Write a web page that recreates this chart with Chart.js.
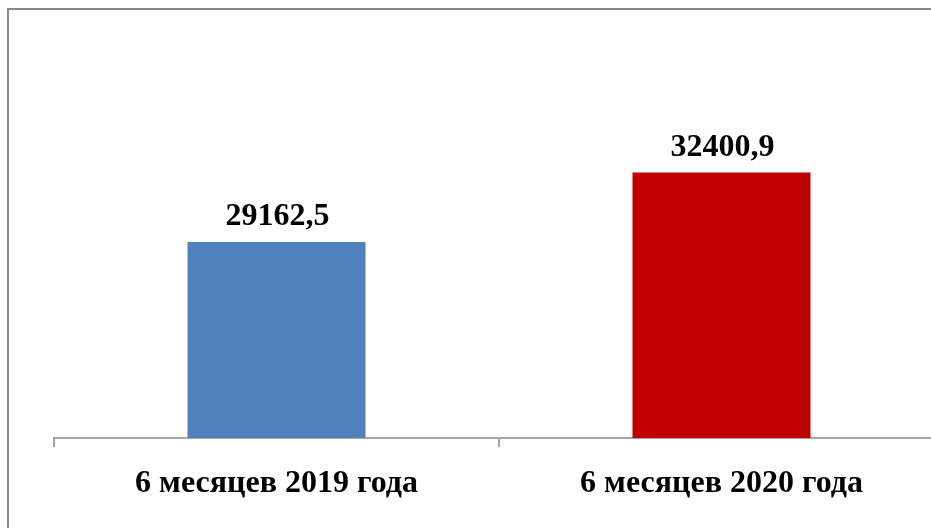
<!DOCTYPE html>
<html>
<head>
<meta charset="utf-8">
<script src="https://cdn.jsdelivr.net/npm/chart.js@4/dist/chart.umd.min.js"></script>
<style>
  html, body { margin: 0; padding: 0; background: #fff; overflow: hidden; width: 931px; height: 528px; }
  #frame { position: absolute; left: 7px; top: 8px; width: 1000px; height: 600px; border-left: 2px solid #888; border-top: 2px solid #888; }
  #wrap { position: absolute; left: 0; top: 0; width: 1000px; height: 528px; }
</style>
</head>
<body>
<div id="frame"></div>
<div id="wrap"><canvas id="c" width="1000" height="528"></canvas></div>
<script>
const categories = ["6 месяцев 2019 года", "6 месяцев 2020 года"];
const values = [29162.5, 32400.9];
const valueLabels = ["29162,5", "32400,9"];
const barColors = ["#4f81bd", "#c00000"];

const FONT = "'Liberation Serif', 'Times New Roman', serif";

const valueLabelPlugin = {
  id: 'valueLabels',
  afterDatasetsDraw(chart) {
    const ctx = chart.ctx;
    const meta = chart.getDatasetMeta(0);
    ctx.save();
    ctx.font = "bold 32px " + FONT;
    ctx.fillStyle = "#000";
    ctx.textAlign = "center";
    ctx.textBaseline = "alphabetic";
    meta.data.forEach((bar, i) => {
      ctx.fillText(valueLabels[i], bar.x + 1, bar.y - 17);
    });
    ctx.restore();
  }
};

new Chart(document.getElementById('c'), {
  type: 'bar',
  data: {
    labels: categories,
    datasets: [{
      data: values,
      backgroundColor: barColors,
      borderWidth: 0,
      barPercentage: 0.8,
      categoryPercentage: 0.5
    }]
  },
  options: {
    responsive: false,
    animation: false,
    layout: { padding: { left: 54, right: 56, top: 10, bottom: 0 } },
    plugins: { legend: { display: false }, tooltip: { enabled: false } },
    scales: {
      y: {
        display: false,
        min: 20000,
        max: 40000
      },
      x: {
        afterFit(scale) { scale.height = 90; },
        border: { display: true, color: '#a6a6a6', width: 2 },
        grid: { display: true, drawOnChartArea: false, drawTicks: true, tickLength: 9, color: '#a6a6a6', lineWidth: 2, offset: true },
        ticks: { color: '#000', font: { family: FONT, size: 32, weight: 'bold' }, padding: 18, maxRotation: 0 }
      }
    }
  },
  plugins: [valueLabelPlugin]
});
</script>
</body>
</html>
